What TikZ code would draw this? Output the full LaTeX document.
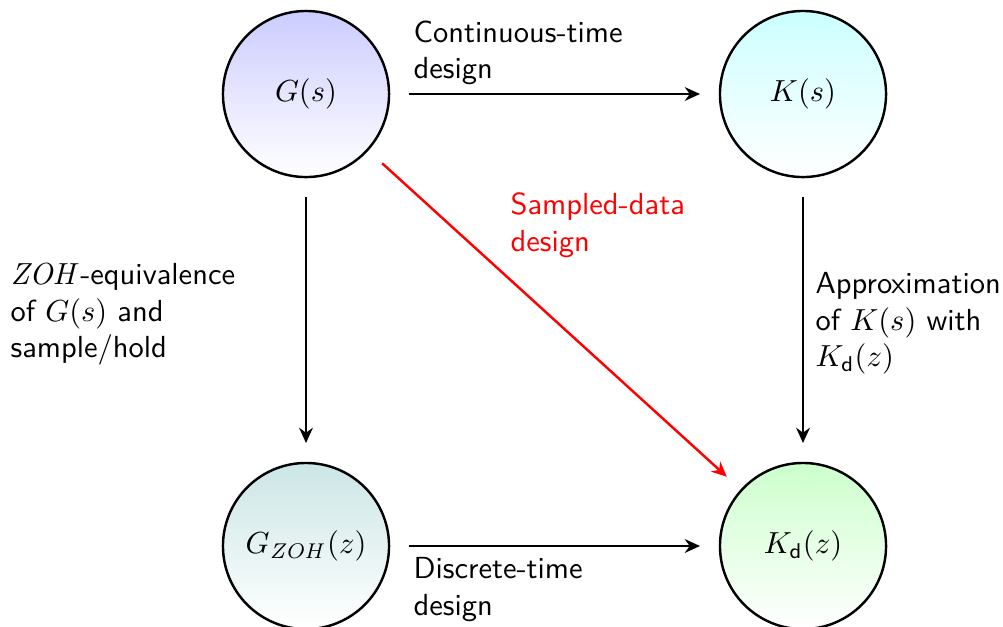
\documentclass[tikz,border=0pt]{standalone}
\usetikzlibrary{arrows.meta}
\begin{document}
\begin{tikzpicture}[x=0.01154cm,y=-0.01154cm,
  state/.style={circle,draw,thick,minimum size=1.916cm,inner sep=0pt,outer sep=0.23cm},
  conn/.style={thick,-{Stealth[length=5pt,width=4.5pt]}},
  lbl/.style={align=left,inner sep=0pt,font=\sffamily}]
\useasboundingbox (0,0) rectangle (1003,626);
\node[state,top color=blue!20,bottom color=white] (G) at (306,94) {$G(s)$};
\node[state,top color=cyan!20,bottom color=white] (K) at (803,94) {$K(s)$};
\node[state,top color=teal!20,bottom color=white] (Gz) at (306,546) {$G_{\mathit{ZOH}}(z)$};
\node[state,top color=green!20,bottom color=white] (Kd) at (803,546) {$K_{\mathsf{d}}(z)$};
\draw[conn] (G) -- (K);
\draw[conn] (G) -- (Gz);
\draw[conn] (K) -- (Kd);
\draw[conn] (Gz) -- (Kd);
\draw[conn,red] (G) -- (Kd);
\node[lbl,anchor=north west] (t1) at (413,20) {Continuous-time\\design};
\node[lbl,anchor=north west] (t2) at (413,557) {Discrete-time\\design};
\node[lbl,anchor=north west] (t3) at (10,263) {$\mathit{ZOH}$-equivalence\\of $G(s)$ and\\sample/hold};
\node[lbl,anchor=north west] (t4) at (815,272) {Approximation\\of $K(s)$ with\\$K_{\mathsf{d}}(z)$};
\node[lbl,anchor=north west,text=red] (t5) at (510,192) {Sampled-data\\design};
\end{tikzpicture}
\end{document}
